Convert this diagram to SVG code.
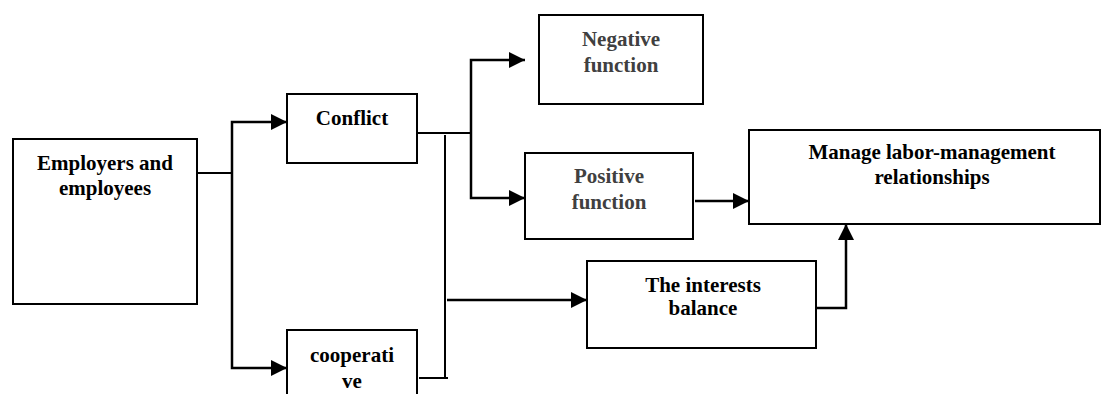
<svg xmlns="http://www.w3.org/2000/svg" width="1101" height="394" viewBox="0 0 1101 394">
<style>
.box{fill:#fff;stroke:#000;stroke-width:2}
.t{font-family:'Liberation Serif','DejaVu Serif',serif;font-weight:bold;font-size:21px;text-anchor:middle;fill:#000}
.g{fill:#404040}
.c{fill:none;stroke:#000;stroke-width:2}
.a{fill:none;stroke:#000;stroke-width:2.5;marker-end:url(#ah)}
</style>
<defs>
<marker id="ah" markerUnits="userSpaceOnUse" markerWidth="16" markerHeight="16" refX="16" refY="8" orient="auto">
<path d="M0,0 L16,8 L0,16 Z" fill="#000"/>
</marker>
</defs>
<rect width="1101" height="394" fill="#fff"/>
<g id="employers">
<rect class="box" x="13" y="139" width="184" height="165"/>
<text class="t" x="105" y="170" font-family="Liberation Serif, serif">Employers and</text>
<text class="t" x="105" y="195" font-family="Liberation Serif, serif">employees</text>
</g>
<g id="conflict">
<rect class="box" x="287" y="94" width="130" height="69"/>
<text class="t" x="352" y="125">Conflict</text>
</g>
<g id="cooperative">
<rect class="box" x="287" y="330" width="130" height="70"/>
<text class="t" x="352" y="362">cooperati</text>
<text class="t" x="352" y="388">ve</text>
</g>
<g id="negative">
<rect class="box" x="539" y="15" width="164" height="89"/>
<text class="t g" x="621" y="46">Negative</text>
<text class="t g" x="621" y="72">function</text>
</g>
<g id="positive">
<rect class="box" x="525" y="153" width="168" height="86"/>
<text class="t g" x="609" y="183">Positive</text>
<text class="t g" x="609" y="209">function</text>
</g>
<g id="manage">
<rect class="box" x="749" y="130" width="351" height="94"/>
<text class="t" x="932" y="159">Manage labor-management</text>
<text class="t" x="932" y="184">relationships</text>
</g>
<g id="interests">
<rect class="box" x="587" y="261" width="229" height="87"/>
<text class="t" x="703" y="292">The interests</text>
<text class="t" x="703" y="315">balance</text>
</g>
<g id="connectors">
<polyline class="c" points="197,173 232,173"/>
<polyline class="a" points="232,173 232,122 287,122"/>
<polyline class="a" points="232,173 232,368 287,368"/>
<polyline class="c" points="417,133 471,133"/>
<polyline class="a" points="471,133 471,60 525,60"/>
<polyline class="a" points="471,133 471,198 525,198"/>
<polyline class="c" points="445,135 445,378"/>
<polyline class="c" points="419,378 448,378"/>
<polyline class="a" points="447,300 587,300"/>
<polyline class="a" points="695,201 749,201"/>
<polyline class="a" points="817,308 846,308 846,224"/>
</g>
</svg>
